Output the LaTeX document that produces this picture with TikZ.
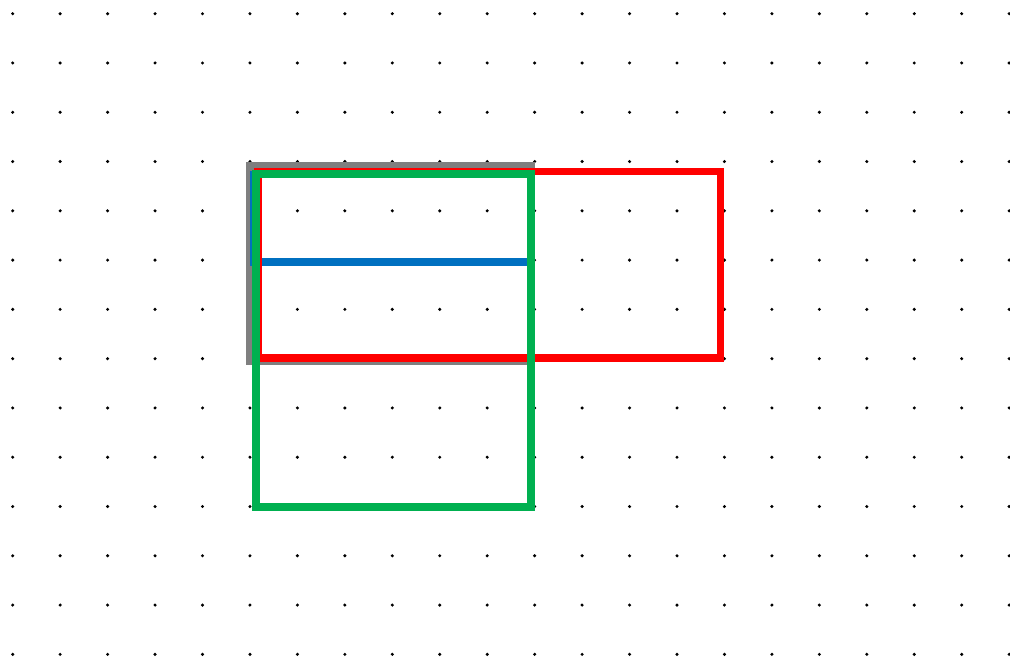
\documentclass[tikz,border=0pt]{standalone}
\usepackage{xcolor}
\usepackage{tikz}
\definecolor{framegray}{HTML}{7F7F7F}
\definecolor{frameblue}{HTML}{0070C0}
\definecolor{framered}{HTML}{FF0000}
\definecolor{framegreen}{HTML}{00B050}
\tikzset{
  griddot/.style={fill=black,draw=none},
  grayframe/.style={draw=framegray,line width=6pt},
  blueframe/.style={draw=frameblue,line width=5.8pt},
  redframe/.style={draw=framered,line width=5.6pt},
  greenframe/.style={draw=framegreen,line width=6pt}
}
\begin{document}
\begin{tikzpicture}[x=0.75pt,y=-0.75pt]
  \useasboundingbox[fill=white] (0,0) rectangle (1010,658);
  % dot grid
  \foreach \i in {0,...,21}{
    \foreach \j in {0,...,13}{
      \fill[griddot] ({12.7+47.45*\i},{13.7+49.28*\j}) circle (1.7);
    }
  }
  % frames, back to front
  \draw[grayframe] (250,165.7) rectangle (531,361);
  \draw[blueframe] (254,174.5) rectangle (531,262);
  \draw[redframe] (258,171.5) rectangle (720.3,358);
  \draw[greenframe] (255.7,173.5) rectangle (530.8,506.7);
\end{tikzpicture}
\end{document}
